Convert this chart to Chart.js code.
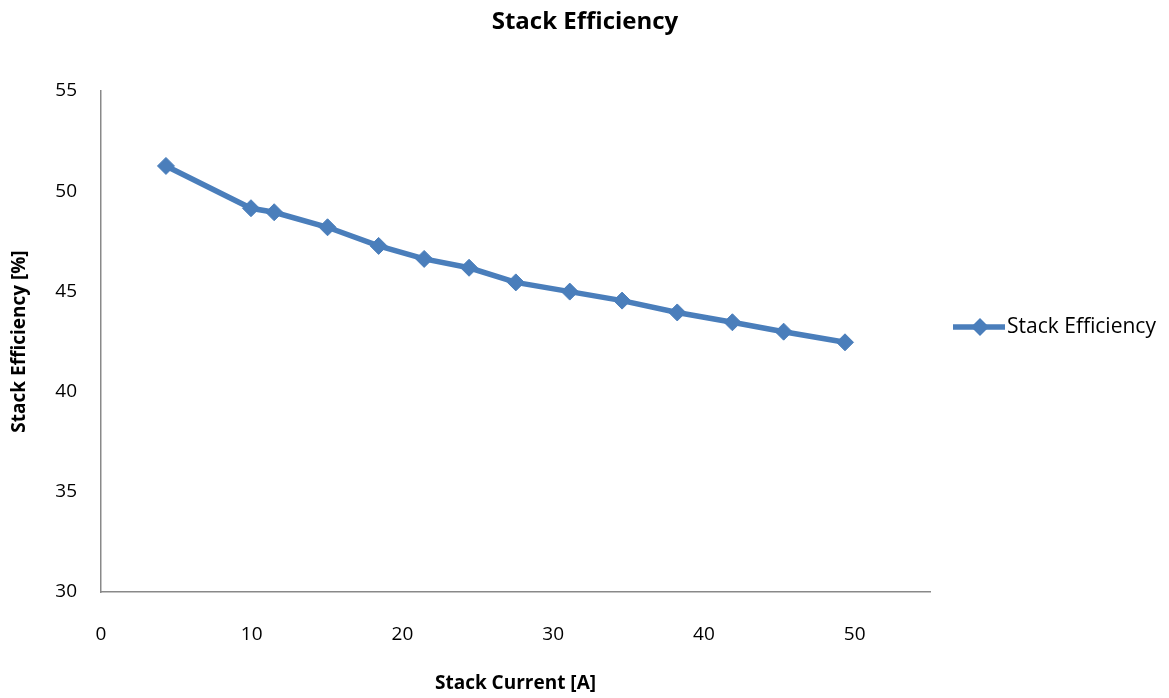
<!DOCTYPE html>
<html><head><meta charset="utf-8">
<script src="https://cdn.jsdelivr.net/npm/chart.js@4/dist/chart.umd.min.js"></script>
<style>html,body{margin:0;padding:0;background:#fff}#wrap{width:1169px;height:698px}</style>
</head><body><div id="wrap"><canvas id="c" width="1169" height="698"></canvas></div>
<script>
const chartTitle = "Stack Efficiency";
const seriesLabel = "Stack Efficiency";
const xTitle = "Stack Current [A]";
const yTitle = "Stack Efficiency [%]";
const currentA = [4.31, 9.95, 11.49, 15.03, 18.42, 21.44, 24.42, 27.52, 31.10, 34.57, 38.23, 41.89, 45.29, 49.36];
const efficiency = [51.26, 49.15, 48.95, 48.20, 47.27, 46.62, 46.18, 45.45, 44.99, 44.54, 43.95, 43.46, 42.99, 42.46];
const xTicks = [0, 10, 20, 30, 40, 50];
const yTicks = [30, 35, 40, 45, 50, 55];

const FONT = "'Open Sans', sans-serif";
const BLUE = '#4A7EBB';

const customDraw = {
  id: 'customDraw',
  afterDraw(chart) {
    const ctx = chart.ctx;
    ctx.save();
    ctx.fillStyle = '#000';
    ctx.font = "bold 24px " + FONT;
    ctx.textAlign = 'center';
    ctx.textBaseline = 'middle';
    ctx.fillText(chartTitle, 585, 22);
    const ds = chart.data.datasets[0];
    const ly = 327;
    ctx.strokeStyle = ds.borderColor;
    ctx.lineWidth = ds.borderWidth;
    ctx.beginPath(); ctx.moveTo(953, ly); ctx.lineTo(1005, ly); ctx.stroke();
    ctx.fillStyle = ds.pointBackgroundColor;
    ctx.beginPath();
    ctx.moveTo(980, ly - 9); ctx.lineTo(989, ly); ctx.lineTo(980, ly + 9); ctx.lineTo(971, ly); ctx.closePath();
    ctx.fill();
    ctx.fillStyle = '#000';
    ctx.font = "21px " + FONT;
    ctx.textAlign = 'left';
    ctx.fillText(ds.label, 1007, ly);
    ctx.restore();
  }
};

new Chart(document.getElementById('c'), {
  type: 'scatter',
  data: {
    datasets: [{
      label: seriesLabel,
      data: currentA.map((x, i) => ({x: x, y: efficiency[i]})),
      showLine: true,
      borderColor: BLUE,
      borderWidth: 5.5,
      pointStyle: 'rectRot',
      pointRadius: 8.5,
      pointBackgroundColor: BLUE,
      pointBorderColor: BLUE,
      pointBorderWidth: 1,
      tension: 0
    }]
  },
  options: {
    responsive: false,
    animation: false,
    events: [],
    layout: { padding: { top: 91, right: 239, left: 0, bottom: 0 } },
    plugins: { legend: { display: false }, title: { display: false }, tooltip: { enabled: false } },
    scales: {
      x: {
        type: 'linear', min: 0, max: 55,
        afterBuildTicks: (s) => { s.ticks = xTicks.map(v => ({value: v})); },
        afterFit: (s) => { s.height = 106; },
        grid: { display: false, drawTicks: false },
        border: { display: true, color: '#898989', width: 1.5 },
        ticks: { padding: 31, color: '#000', font: { family: FONT, size: 19 } },
        title: { display: true, text: xTitle, color: '#000', padding: { top: 0, bottom: 3 }, font: { family: FONT, size: 19, weight: 'bold' } }
      },
      y: {
        type: 'linear', min: 30, max: 55,
        afterBuildTicks: (s) => { s.ticks = yTicks.map(v => ({value: v})); },
        afterFit: (s) => { s.width = 101; },
        grid: { display: false, drawTicks: false },
        border: { display: true, color: '#898989', width: 1.5 },
        ticks: { padding: 24, color: '#000', font: { family: FONT, size: 19 } },
        title: { display: true, text: yTitle, color: '#000', padding: { top: 8, bottom: 0 }, font: { family: FONT, size: 19, weight: 'bold' } }
      }
    }
  },
  plugins: [customDraw]
});
</script></body></html>
